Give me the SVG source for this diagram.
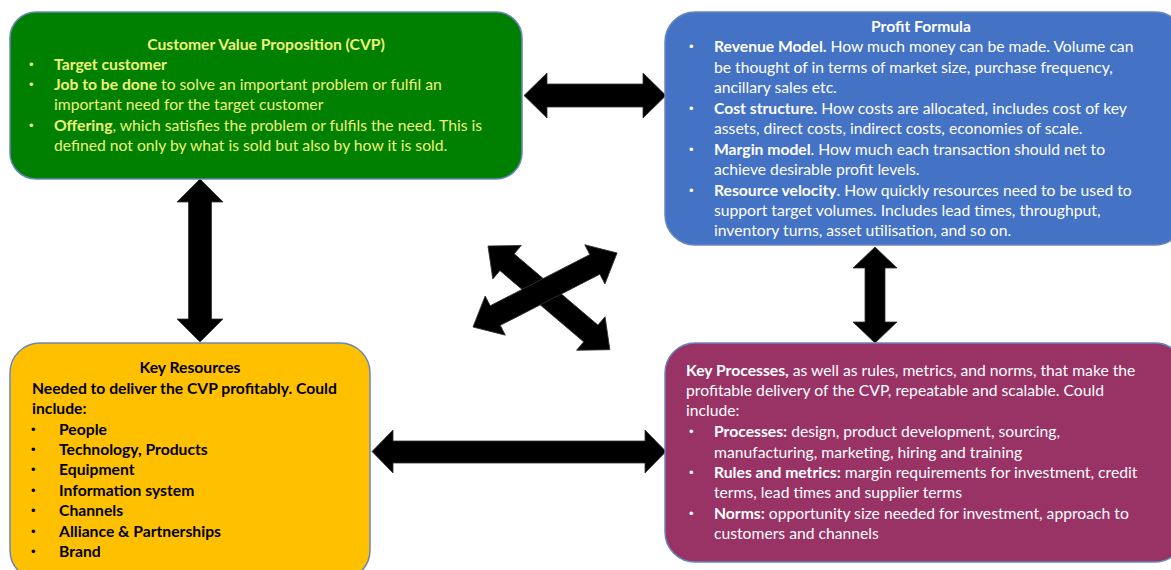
<svg xmlns="http://www.w3.org/2000/svg" width="1171" height="570" viewBox="0 0 1171 570">
<style>
text{font-family:Lato,"Open Sans","Liberation Sans",sans-serif;font-size:15.7px}
.b{font-weight:bold}
.u{font-family:"Liberation Sans",Arial,sans-serif;font-size:13px}
.box{stroke:#6a86b8;stroke-width:1.5}
.g text{fill:#EEF27A}
.w text{fill:#ffffff}
.k text{fill:#000000}
.arr{fill:#000;stroke:#333;stroke-width:0.8;stroke-linejoin:miter}
</style>
<rect width="1171" height="570" fill="#ffffff"/>
<g id="connectors">
<path class="arr" d="M524,95.5 L547,73 L547,84 L643,84 L643,73 L666,95.5 L643,118 L643,107 L547,107 L547,118 Z"/>
<path class="arr" d="M372,451.5 L393,430 L393,441 L645,441 L645,430 L666,451.5 L645,473 L645,463 L393,463 L393,473 Z"/>
<path class="arr" d="M200,179 L223,202 L211.5,202 L211.5,319 L223,319 L200,342 L177,319 L188.5,319 L188.5,202 L177,202 Z"/>
<path class="arr" d="M875,247 L897,268 L885,268 L885,322 L897,322 L875,343 L853,322 L865,322 L865,268 L853,268 Z"/>
<path class="arr" transform="translate(488,246) rotate(40.4)" d="M0,0 L25,-22 L25,-11 L135,-11 L135,-22 L160,0 L135,22 L135,11 L25,11 L25,22 Z"/>
<path class="arr" transform="translate(473,327) rotate(-27.2)" d="M0,0 L25,-22 L25,-11 L137,-11 L137,-22 L162,0 L137,22 L137,11 L25,11 L25,22 Z"/>
</g>
<g id="cvp" class="g">
<rect class="box" x="10" y="12" width="512" height="167" rx="26" fill="#008000"/>
<text class="b" x="266" y="50" text-anchor="middle">Customer Value Proposition (CVP)</text>
<text class="u" x="29" y="69">•</text><text class="b" x="54" y="70">Target customer</text>
<text class="u" x="29" y="89">•</text><text x="54" y="90"><tspan class="b">Job to be done</tspan> to solve an important problem or fulfil an</text>
<text x="54" y="110">important need for the target customer</text>
<text class="u" x="29" y="130">•</text><text x="54" y="131"><tspan class="b">Offering</tspan>, which satisfies the problem or fulfils the need. This is</text>
<text x="54" y="151">defined not only by what is sold but also by how it is sold.</text>
</g>
<g id="profit" class="w">
<rect class="box" x="665" y="12" width="520" height="233" rx="30" fill="#4472C4"/>
<text class="b" x="921" y="32" text-anchor="middle">Profit Formula</text>
<text class="u" x="689" y="51">•</text><text x="714" y="52"><tspan class="b">Revenue Model.</tspan> How much money can be made. Volume can</text>
<text x="714" y="73">be thought of in terms of market size, purchase frequency,</text>
<text x="714" y="93">ancillary sales etc.</text>
<text class="u" x="689" y="113">•</text><text x="714" y="114"><tspan class="b">Cost structure.</tspan> How costs are allocated, includes cost of key</text>
<text x="714" y="134">assets, direct costs, indirect costs, economies of scale.</text>
<text class="u" x="689" y="154">•</text><text x="714" y="155"><tspan class="b">Margin model</tspan>. How much each transaction should net to</text>
<text x="714" y="175">achieve desirable profit levels.</text>
<text class="u" x="689" y="195">•</text><text x="714" y="196"><tspan class="b">Resource velocity</tspan>. How quickly resources need to be used to</text>
<text x="714" y="216">support target volumes. Includes lead times, throughput,</text>
<text x="714" y="236">inventory turns, asset utilisation, and so on.</text>
</g>
<g id="processes" class="w">
<rect class="box" x="665" y="343" width="520" height="219" rx="30" fill="#993366"/>
<text x="686" y="376"><tspan class="b">Key Processes,</tspan> as well as rules, metrics, and norms, that make the</text>
<text x="686" y="396">profitable delivery of the CVP, repeatable and scalable. Could</text>
<text x="686" y="416">include:</text>
<text class="u" x="689" y="436">•</text><text x="714" y="437"><tspan class="b">Processes:</tspan> design, product development, sourcing,</text>
<text x="714" y="458">manufacturing, marketing, hiring and training</text>
<text class="u" x="689" y="477">•</text><text x="714" y="478"><tspan class="b">Rules and metrics:</tspan> margin requirements for investment, credit</text>
<text x="714" y="498">terms, lead times and supplier terms</text>
<text class="u" x="689" y="518">•</text><text x="714" y="519"><tspan class="b">Norms:</tspan> opportunity size needed for investment, approach to</text>
<text x="714" y="539">customers and channels</text>
</g>
<g id="resources" class="k">
<rect class="box" x="10" y="343" width="360" height="237" rx="30" fill="#FFC000"/>
<text class="b" x="190" y="373" text-anchor="middle">Key Resources</text>
<text class="b" x="32" y="394">Needed to deliver the CVP profitably. Could</text>
<text class="b" x="32" y="414">include:</text>
<text class="u" x="31" y="434">•</text><text class="b" x="59" y="435">People</text>
<text class="u" x="31" y="454">•</text><text class="b" x="59" y="455">Technology, Products</text>
<text class="u" x="31" y="474">•</text><text class="b" x="59" y="475">Equipment</text>
<text class="u" x="31" y="495">•</text><text class="b" x="59" y="496">Information system</text>
<text class="u" x="31" y="515">•</text><text class="b" x="59" y="516">Channels</text>
<text class="u" x="31" y="536">•</text><text class="b" x="59" y="537">Alliance &amp; Partnerships</text>
<text class="u" x="31" y="556">•</text><text class="b" x="59" y="557">Brand</text>
</g>
</svg>
